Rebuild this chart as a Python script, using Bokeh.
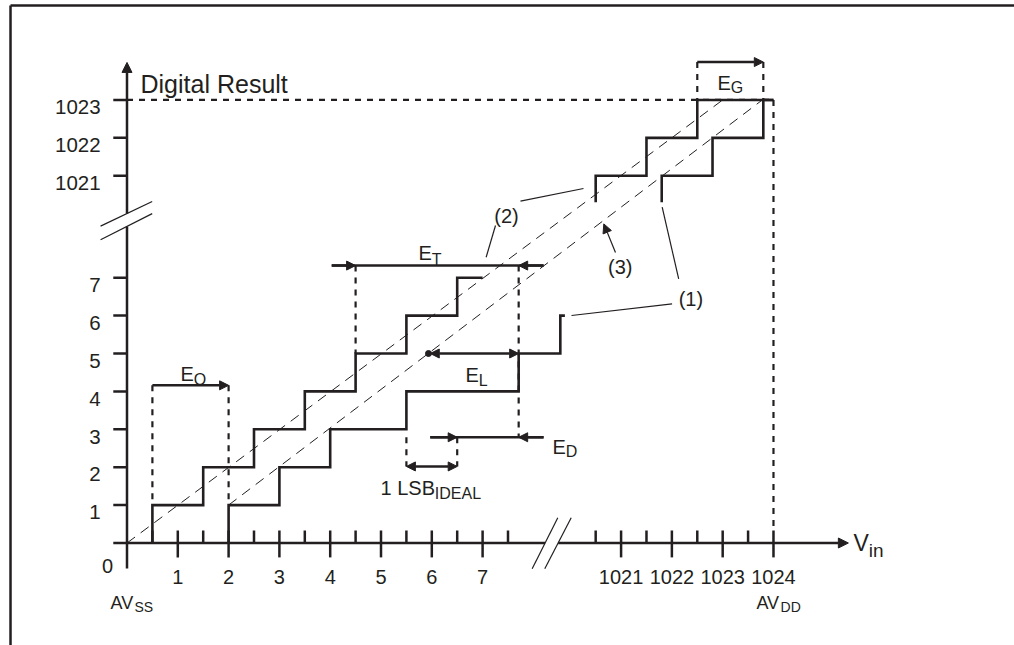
from bokeh.plotting import figure
from bokeh.models import Range1d, Arrow, NormalHead
from bokeh.core.properties import value
from bokeh.embed import file_html
from bokeh.resources import INLINE

# ---------------- data (codes / LSB units) ----------------
x_ticks_low = [1, 2, 3, 4, 5, 6, 7]
x_ticks_high = [1021, 1022, 1023, 1024]
x_minor = [0.5, 1.5, 2.5, 3.5, 4.5, 5.5, 6.5, 7.5, 1020.5, 1021.5, 1022.5, 1023.5]
y_ticks_low = [1, 2, 3, 4, 5, 6, 7]
y_ticks_high = [1021, 1022, 1023]

# offset / gain-shifted transfer curve (upper staircase)
upper_edges_low = [0.5, 1.5, 2.5, 3.5, 4.5, 5.5, 6.5]
upper_codes_low = [1, 2, 3, 4, 5, 6, 7]
upper_end_low = 7.0
upper_edges_high = [1020.5, 1021.5, 1022.5]
upper_codes_high = [1021, 1022, 1023]

# actual transfer curve (lower staircase)
actual_edges_low = [2.0, 3.0, 4.0, 5.5, 7.71, 8.53]
actual_codes_low = [1, 2, 3, 4, 5, 6]
actual_end_low = 8.62
actual_edges_high = [1021.8, 1022.8, 1023.8]
actual_codes_high = [1021, 1022, 1023]
high_start_level = 1020.3
full_scale = 1024

# ideal lines: (x0, x1), (y0, y1)
line2 = ([0.0, 1023.0], [0.0, 1023.0])
line3 = ([2.0, 1023.78], [1.0, 1023.0])

INK = "#231f20"
FONT = value("Liberation Sans")

X_BREAK_POS = 12.726   # display position of code 1024 on x
Y_BREAK_POS = 11.69    # display position of code 1023 on y


def X(c):
    return c if c < 500 else c - 1024 + X_BREAK_POS


def Y(c):
    return c if c < 500 else c - 1023 + Y_BREAK_POS


def steps(start, edges, codes, end):
    xs, ys = [edges[0]], [start]
    for i, (e, c) in enumerate(zip(edges, codes)):
        xs.append(e)
        ys.append(c)
        nxt = edges[i + 1] if i + 1 < len(edges) else end
        xs.append(nxt)
        ys.append(c)
    return [X(v) for v in xs], [Y(v) for v in ys]


W, H = 1014, 645
SX, SY = 50.8, 37.9
x0r = -126.5 / SX
y1r = 542.5 / SY
p = figure(width=W, height=H, output_backend="svg", toolbar_location=None,
           x_range=Range1d(x0r, x0r + W / SX), y_range=Range1d(y1r - H / SY, y1r),
           x_axis_location=None, y_axis_location=None, min_border=0,
           background_fill_color="white", border_fill_color="white")
p.grid.visible = False
p.outline_line_color = None

# border (top and left edges of the figure box)
p.segment(x0=[-2.293, -2.293], y0=[-3.0, 14.182], x1=[-2.293, 18.0], y1=[14.182, 14.182],
          line_color=INK, line_width=2.5)

# ideal dashed lines
for lx, ly in (line2, line3):
    p.line([X(v) for v in lx], [Y(v) for v in ly], line_color=INK, line_width=1,
           line_dash="10 7")

# staircases
for (s, e, c, en) in [(0, upper_edges_low, upper_codes_low, upper_end_low),
                      (high_start_level, upper_edges_high, upper_codes_high, full_scale),
                      (0, actual_edges_low, actual_codes_low, actual_end_low),
                      (high_start_level, actual_edges_high, actual_codes_high, full_scale)]:
    xs, ys = steps(s, e, c, en)
    p.line(xs, ys, line_color=INK, line_width=2.6, line_join="miter")

# ---------------- axes ----------------
p.segment(x0=[-0.27], y0=[0], x1=[8.231], y1=[0], line_color=INK, line_width=2.5)
p.segment(x0=[0], y0=[-0.673], x1=[0], y1=[8.353], line_color=INK, line_width=2.5)
p.add_layout(Arrow(end=NormalHead(size=10, fill_color=INK, line_color=INK),
                   x_start=8.487, y_start=0, x_end=14.2, y_end=0,
                   line_color=INK, line_width=2.5))
p.add_layout(Arrow(end=NormalHead(size=10, fill_color=INK, line_color=INK),
                   x_start=0, y_start=8.693, x_end=0, y_end=12.68,
                   line_color=INK, line_width=2.5))
# break marks
p.segment(x0=[-0.52, -0.52, 7.976, 8.224], y0=[8.36, 8.0, -0.68, -0.68],
          x1=[0.496, 0.496, 8.48, 8.744], y1=[9.01, 8.69, 0.665, 0.665],
          line_color=INK, line_width=1.2)

# ticks
xt = [X(v) for v in x_ticks_low + x_ticks_high]
p.segment(x0=xt, y0=[0.33] * len(xt), x1=xt, y1=[-0.38] * len(xt),
          line_color=INK, line_width=2.5)
xm = [X(v) for v in x_minor]
p.segment(x0=xm, y0=[0.33] * len(xm), x1=xm, y1=[0] * len(xm),
          line_color=INK, line_width=2.5)
yt = [Y(v) for v in y_ticks_low + y_ticks_high]
p.segment(x0=[-0.27] * len(yt), y0=yt, x1=[0] * len(yt), y1=yt,
          line_color=INK, line_width=2.5)

# tick labels
p.text(x=xt, y=[-0.91] * len(xt), text=[str(v) for v in x_ticks_low + x_ticks_high],
       text_font=FONT, text_font_size="20px", text_align="center",
       text_baseline="alphabetic", text_color=INK)
p.text(x=[-0.52] * len(yt), y=[v - 0.19 for v in yt],
       text=[str(v) for v in y_ticks_low + y_ticks_high],
       text_font=FONT, text_font_size="20.5px", text_align="right",
       text_baseline="alphabetic", text_color=INK)
p.text(x=[-0.384], y=[-0.594], text=["0"], text_font=FONT, text_font_size="20px",
       text_align="center", text_baseline="alphabetic", text_color=INK)

# axis titles
p.text(x=[0.266], y=[12.124], text=["Digital Result"], text_font=FONT,
       text_font_size="25px", text_align="left", text_baseline="alphabetic", text_color=INK)
p.text(x=[14.3], y=[-0.013], text=["V"], text_font=FONT, text_font_size="23px",
       text_align="left", text_baseline="alphabetic", text_color=INK)
p.text(x=[14.6], y=[-0.198], text=["in"], text_font=FONT, text_font_size="19px",
       text_align="left", text_baseline="alphabetic", text_color=INK)
p.text(x=[-0.325, 12.39], y=[-1.596, -1.596], text=["AV", "AV"], text_font=FONT,
       text_font_size="18px", text_align="left", text_baseline="alphabetic", text_color=INK)
p.text(x=[0.148, 12.866], y=[-1.70, -1.70], text=["SS", "DD"], text_font=FONT,
       text_font_size="14px", text_align="left", text_baseline="alphabetic", text_color=INK)

# ---------------- guides (dotted) ----------------
gd = dict(line_color=INK, line_width=2.2, line_dash="6 6")
p.segment(x0=[0.5, 2.0, 4.5, 7.71, 5.5, 6.5, X(1022.5), X(1023.8)],
          y0=[4.16, 4.16, 7.32, 7.32, 2.79, 2.79, Y(1024), Y(1024)],
          x1=[0.5, 2.0, 4.5, 7.71, 5.5, 6.5, X(1022.5), X(1023.8)],
          y1=[1.0, 1.0, 5.0, 2.79, 2.02, 2.02, Y(1023), Y(1023)], **gd)
p.segment(x0=[0, X(1024)], y0=[Y(1023), Y(1023)], x1=[X(1024), X(1024)], y1=[Y(1023), 0.33], **gd)

# ---------------- error arrows ----------------
def head(sz=9):
    return NormalHead(size=sz, fill_color=INK, line_color=INK)

aw = dict(line_color=INK, line_width=2.5)
# E_O
p.add_layout(Arrow(end=head(), x_start=0.5, y_start=4.16, x_end=2.0, y_end=4.16, **aw))
# E_T
p.segment(x0=[4.03], y0=[7.32], x1=[8.2], y1=[7.32], **aw)
p.add_layout(Arrow(end=head(), x_start=4.03, y_start=7.32, x_end=4.5, y_end=7.32, **aw))
p.add_layout(Arrow(end=head(), x_start=8.2, y_start=7.32, x_end=7.71, y_end=7.32, **aw))
# E_L
p.add_layout(Arrow(start=head(), end=head(), x_start=5.97, y_start=5.0, x_end=7.71,
                   y_end=5.0, **aw))
p.scatter(x=[5.935], y=[5.0], size=6, marker="circle", color=INK)
# E_D
p.segment(x0=[5.97], y0=[2.79], x1=[8.2], y1=[2.79], **aw)
p.add_layout(Arrow(end=head(), x_start=5.97, y_start=2.79, x_end=6.5, y_end=2.79, **aw))
p.add_layout(Arrow(end=head(), x_start=8.2, y_start=2.79, x_end=7.71, y_end=2.79, **aw))
# 1 LSB ideal
p.add_layout(Arrow(start=head(), end=head(), x_start=5.5, y_start=2.02, x_end=6.5,
                   y_end=2.02, **aw))
# E_G
p.add_layout(Arrow(end=head(), x_start=X(1022.5), y_start=Y(1024), x_end=X(1023.8),
                   y_end=Y(1024), **aw))

# error labels
big = dict(text_font=FONT, text_font_size="20px", text_align="left",
           text_baseline="alphabetic", text_color=INK)
small = dict(text_font=FONT, text_font_size="16px", text_align="left",
             text_baseline="alphabetic", text_color=INK)
p.text(x=[1.053, 5.738, 6.663, 8.376, 11.624, 4.99],
       y=[4.446, 7.64, 4.42, 2.546, 12.15, 1.464],
       text=["E", "E", "E", "E", "E", "1 LSB"], **big)
p.text(x=[1.315, 6.0, 6.925, 8.638, 11.886, 6.06],
       y=[4.314, 7.49, 4.288, 2.414, 12.018, 1.306],
       text=["O", "T", "L", "D", "G", "IDEAL"], **small)

# ---------------- callouts ----------------
p.text(x=[11.1, 7.47, 9.71], y=[6.44, 8.64, 7.27], text=["(1)", "(2)", "(3)"],
       text_font=FONT, text_font_size="20px", text_align="center",
       text_baseline="middle", text_color=INK)
p.segment(x0=[8.75, 10.86, 7.746, 7.254], y0=[6.003, 6.97, 9.02, 8.377],
          x1=[10.73, 10.535, 8.986, 7.07], y1=[6.31, 8.86, 9.354, 7.54],
          line_color=INK, line_width=1.2)
p.add_layout(Arrow(end=head(9), x_start=9.616, y_start=7.665, x_end=9.386, y_end=8.42,
                   line_color=INK, line_width=1.2))

open("out.html", "w").write(file_html(p, INLINE))
